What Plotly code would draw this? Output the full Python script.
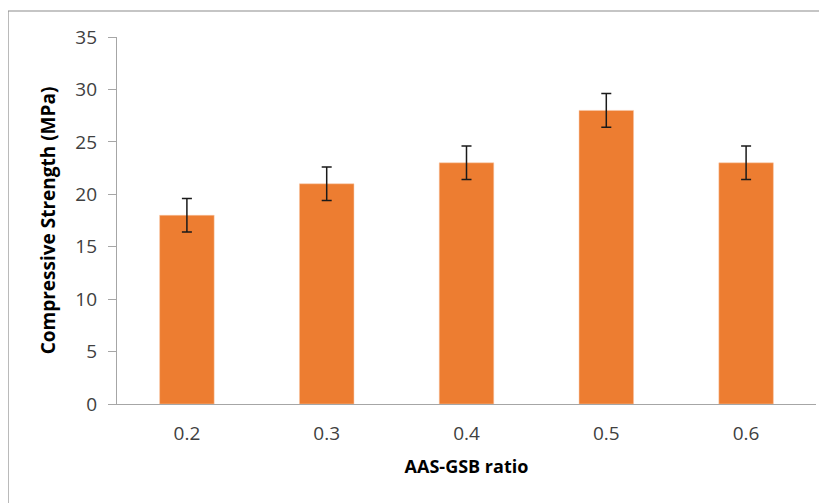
import plotly.graph_objects as go

categories = ["0.2", "0.3", "0.4", "0.5", "0.6"]
strength = [18, 21, 23, 28, 23]
error = [1.6, 1.6, 1.6, 1.6, 1.6]
y_ticks = [0, 5, 10, 15, 20, 25, 30, 35]

# browser body margin offsets the figure by 8px
OFF = 8
W, H = 827 - OFF, 503 - OFF
ml, mr, mt, mb = 117 - OFF, 11, 37 - OFF, 99
pw, ph = W - ml - mr, H - mt - mb

fig = go.Figure()
fig.add_trace(go.Bar(
    x=categories, y=strength,
    marker=dict(color="#ED7D31", line=dict(color="#F8C9A8", width=0.5)),
    width=0.39,
    error_y=dict(type="data", array=error, visible=True, color="#1a1a1a", thickness=1.5, width=5),
))

font = "Open Sans, Liberation Sans, sans-serif"
fig.update_layout(
    width=W, height=H,
    margin=dict(l=ml, r=mr, t=mt, b=mb),
    paper_bgcolor="white", plot_bgcolor="white",
    showlegend=False,
    font=dict(family=font, color="#404040"),
    xaxis=dict(
        showline=True, linecolor="#A6A6A6", linewidth=1.2,
        ticks="", tickfont=dict(size=19, color="#404040"), ticklabelstandoff=12,
        title=dict(text="<b>AAS-GSB ratio</b>", font=dict(size=18, color="#000000"), standoff=15),
    ),
    yaxis=dict(
        range=[0, 35], tickvals=y_ticks, showgrid=False, zeroline=False,
        showline=True, linecolor="#A6A6A6", linewidth=1.2,
        ticks="outside", ticklen=8, tickcolor="#A6A6A6",
        tickfont=dict(size=19, color="#404040"), ticklabelstandoff=7,
        title=dict(text="<b>Compressive Strength (MPa)</b>", font=dict(size=19, color="#000000"), standoff=14),
    ),
    shapes=[dict(
        type="rect", xref="paper", yref="paper",
        x0=(0 - ml) / pw, x1=(W + 5 - ml) / pw,
        y0=-(H + 5 - mt - ph) / ph, y1=1 + (mt - 3) / ph,
        line=dict(color="#8C8C8C", width=1.2), fillcolor="rgba(0,0,0,0)", layer="below",
    )],
)

fig.write_html("out.html")
